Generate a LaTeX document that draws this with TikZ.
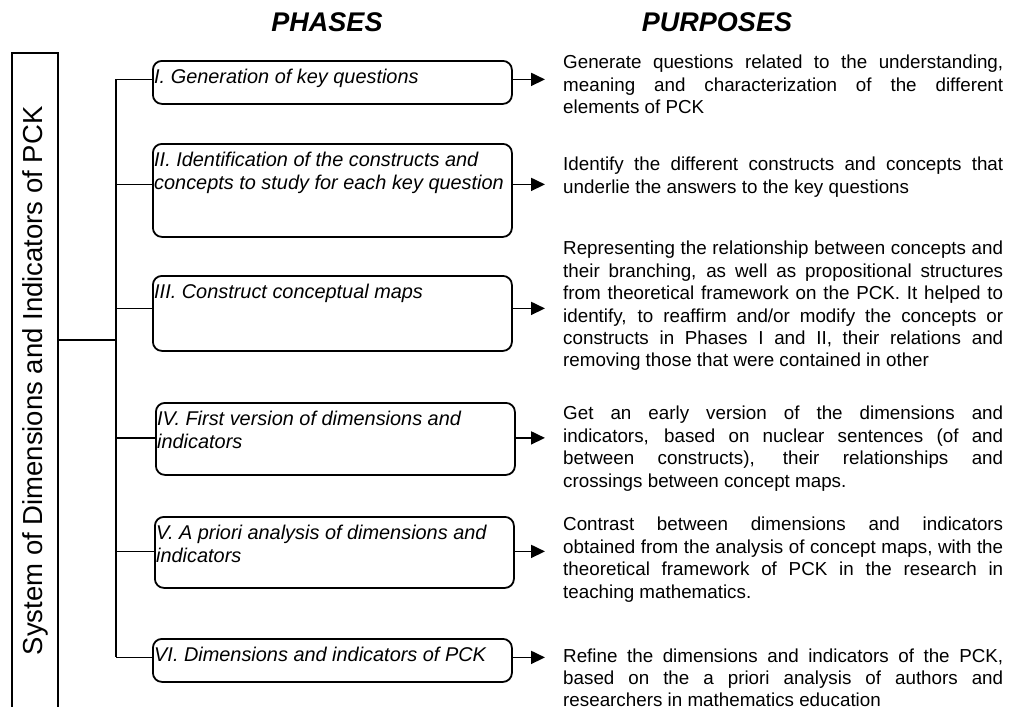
\documentclass[tikz,border=0pt]{standalone}
\usepackage{fontspec}
\setmainfont{Liberation Sans}
\usetikzlibrary{arrows.meta}

\tolerance=10000
\hbadness=10000
\hyphenpenalty=10000

\tikzset{
	phasebox/.style={draw, line width=1.8pt, rounded corners=9pt, minimum width=359pt, anchor=north west, inner sep=0pt},
	phasetext/.style={anchor=north west, inner sep=0pt, align=left, xshift=2pt, yshift=-9pt, font=\fontsize{19.9}{22.8}\selectfont\itshape},
	purpose/.style={anchor=north west, inner sep=0pt, text width=440pt, align=justify, font=\fontsize{18.8}{22.4}\selectfont},
	heading/.style={font=\fontsize{27}{30}\selectfont\bfseries\itshape},
	link/.style={line width=1.8pt},
	goal/.style={line width=1.8pt, -{Triangle[length=14pt,width=13pt]}, shorten >=18pt},
}

\begin{document}
\begin{tikzpicture}[x=1pt, y=-1pt]
	\useasboundingbox (0,0) rectangle (1010,707);

	\node[heading] (hPhases) at (327,22) {PHASES};
	\node[heading] (hPurposes) at (717,22) {PURPOSES};

	\node[draw, line width=1.8pt, anchor=north west, minimum width=46pt, minimum height=656pt, inner sep=0pt] (sys) at (11,52) {};
	\node[rotate=90, font=\fontsize{27.5}{30}\selectfont] (sysText) at (sys.center) {System of Dimensions and Indicators of PCK};

	\node[phasebox, minimum height=43pt] (ph1) at (152,60) {};
	\node[phasebox, minimum height=93pt] (ph2) at (152,143) {};
	\node[phasebox, minimum height=75pt] (ph3) at (152,275) {};
	\node[phasebox, minimum height=72pt] (ph4) at (155,402) {};
	\node[phasebox, minimum height=71pt] (ph5) at (154,516) {};
	\node[phasebox, minimum height=43pt] (ph6) at (152,638) {};

	\node[phasetext] (tx1) at (ph1.north west) {I. Generation of key questions};
	\node[phasetext] (tx2) at (ph2.north west) {II. Identification of the constructs and\\concepts to study for each key question};
	\node[phasetext] (tx3) at (ph3.north west) {III. Construct conceptual maps};
	\node[phasetext] (tx4) at (ph4.north west) {IV. First version of dimensions and\\indicators};
	\node[phasetext] (tx5) at (ph5.north west) {V. A priori analysis of dimensions and\\indicators};
	\node[phasetext] (tx6) at (ph6.north west) {VI. Dimensions and indicators of PCK};

	\node[purpose] (pu1) at (563,55) {Generate questions related to the understanding,\linebreak meaning and characterization of the different\linebreak elements of PCK};
	\node[purpose] (pu2) at (563,157) {Identify the different constructs and concepts that\linebreak underlie the answers to the key questions};
	\node[purpose] (pu3) at (563,241) {Representing the relationship between concepts and\linebreak their branching, as well as propositional structures\linebreak from theoretical framework on the PCK. It helped to\linebreak identify, to reaffirm and/or modify the concepts or\linebreak constructs in Phases I and II, their relations and\linebreak removing those that were contained in other};
	\node[purpose] (pu4) at (563,406) {Get an early version of the dimensions and\linebreak indicators, based on nuclear sentences (of and\linebreak between constructs), their relationships and\linebreak crossings between concept maps.};
	\node[purpose] (pu5) at (563,517) {Contrast between dimensions and indicators\linebreak obtained from the analysis of concept maps, with the\linebreak theoretical framework of PCK in the research in\linebreak teaching mathematics.};
	\node[purpose, font=\fontsize{18.8}{21.6}\selectfont] (pu6) at (563,649) {Refine the dimensions and indicators of the PCK,\linebreak based on the a priori analysis of authors and\linebreak researchers in mathematics education};

	\coordinate (hub) at (116,340);
	\draw[link] (sys.east |- hub) -- (hub);
	\draw[link] ([yshift=3pt]hub |- ph1.west) -- ([yshift=3pt]hub |- ph6.west);

	\foreach \i / \dy in {1/3, 2/6, 3/5, 4/1, 5/1, 6/3}
	{
		\path[link] ([yshift=\dy pt]hub |- ph\i.west) edge ([yshift=\dy pt]ph\i.west);
		\draw[goal] ([yshift=\dy pt]ph\i.east) -- ([yshift=\dy pt]ph\i.east -| pu\i.west);
	};
\end{tikzpicture}
\end{document}
